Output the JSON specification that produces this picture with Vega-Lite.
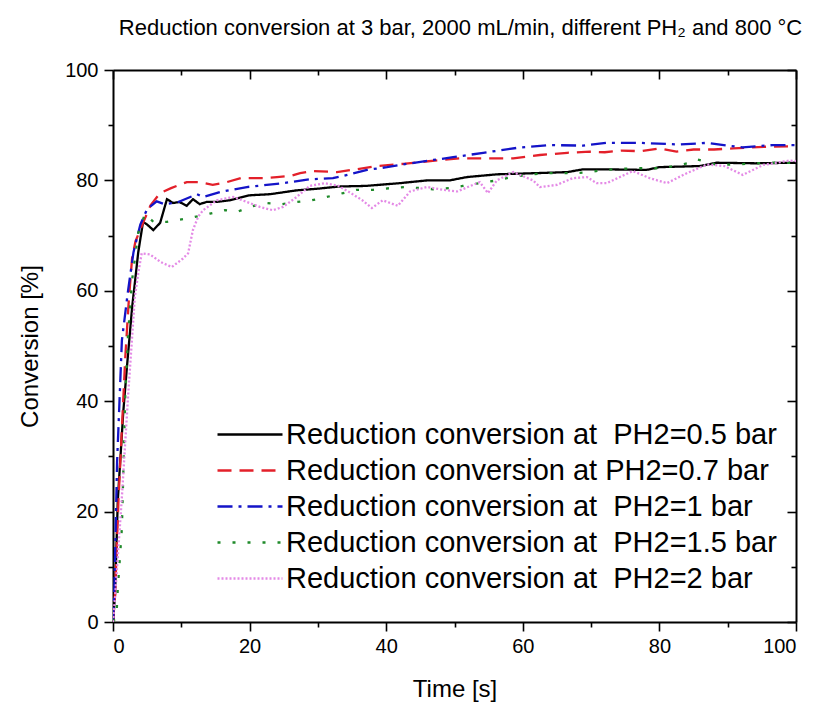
{
  "$schema": "https://vega.github.io/schema/vega-lite/v6.json",
  "width": 683,
  "height": 552,
  "autosize": "none",
  "padding": {"left": 113, "top": 70, "right": 21, "bottom": 86},
  "background": "white",
  "title": {
    "text": "Reduction conversion at 3 bar, 2000 mL/min, different PH₂ and 800 °C",
    "font": "Liberation Sans",
    "fontSize": 22,
    "fontWeight": "normal",
    "color": "black",
    "anchor": "middle",
    "dx": 6,
    "offset": 20
  },
  "datasets": {
    "conv": [
      {"s": "0.5", "t": 0, "c": 0}, {"s": "0.5", "t": 0.3, "c": 5}, {"s": "0.5", "t": 0.7, "c": 22}, {"s": "0.5", "t": 1.5, "c": 38}, {"s": "0.5", "t": 2, "c": 45.6}, {"s": "0.5", "t": 2.8, "c": 57}, {"s": "0.5", "t": 3.7, "c": 67}, {"s": "0.5", "t": 4.4, "c": 72.5}, {"s": "0.5", "t": 5, "c": 72}, {"s": "0.5", "t": 5.9, "c": 71}, {"s": "0.5", "t": 6.9, "c": 72.3}, {"s": "0.5", "t": 7.9, "c": 76.6}, {"s": "0.5", "t": 8.8, "c": 75.9}, {"s": "0.5", "t": 9.7, "c": 76.1}, {"s": "0.5", "t": 10.8, "c": 75.4}, {"s": "0.5", "t": 11.7, "c": 76.6}, {"s": "0.5", "t": 12.7, "c": 75.7}, {"s": "0.5", "t": 13.7, "c": 76.1}, {"s": "0.5", "t": 15.2, "c": 76.1}, {"s": "0.5", "t": 17.1, "c": 76.4}, {"s": "0.5", "t": 20, "c": 77.3}, {"s": "0.5", "t": 23, "c": 77.5}, {"s": "0.5", "t": 26.9, "c": 78.2}, {"s": "0.5", "t": 30, "c": 78.5}, {"s": "0.5", "t": 33.2, "c": 78.9}, {"s": "0.5", "t": 37, "c": 79}, {"s": "0.5", "t": 42, "c": 79.5}, {"s": "0.5", "t": 46, "c": 80}, {"s": "0.5", "t": 49.3, "c": 80}, {"s": "0.5", "t": 51.8, "c": 80.6}, {"s": "0.5", "t": 56.2, "c": 81.1}, {"s": "0.5", "t": 61.5, "c": 81.3}, {"s": "0.5", "t": 66.5, "c": 81.5}, {"s": "0.5", "t": 68.8, "c": 82}, {"s": "0.5", "t": 72.3, "c": 82}, {"s": "0.5", "t": 78.1, "c": 81.9}, {"s": "0.5", "t": 80, "c": 82.4}, {"s": "0.5", "t": 85.9, "c": 82.6}, {"s": "0.5", "t": 88.4, "c": 83.2}, {"s": "0.5", "t": 94, "c": 83.1}, {"s": "0.5", "t": 100, "c": 83.2},

      {"s": "0.7", "t": 0, "c": 0}, {"s": "0.7", "t": 0.3, "c": 5}, {"s": "0.7", "t": 0.8, "c": 22}, {"s": "0.7", "t": 1.3, "c": 35}, {"s": "0.7", "t": 1.8, "c": 48}, {"s": "0.7", "t": 2.3, "c": 58}, {"s": "0.7", "t": 2.8, "c": 66}, {"s": "0.7", "t": 3.3, "c": 69}, {"s": "0.7", "t": 4.4, "c": 72.3}, {"s": "0.7", "t": 5.5, "c": 75.5}, {"s": "0.7", "t": 6.9, "c": 77.7}, {"s": "0.7", "t": 8.5, "c": 78.6}, {"s": "0.7", "t": 10.8, "c": 79.7}, {"s": "0.7", "t": 12.7, "c": 79.7}, {"s": "0.7", "t": 14.6, "c": 79.2}, {"s": "0.7", "t": 16.7, "c": 79.7}, {"s": "0.7", "t": 18.7, "c": 80.4}, {"s": "0.7", "t": 22, "c": 80.4}, {"s": "0.7", "t": 24, "c": 80.6}, {"s": "0.7", "t": 26, "c": 80.8}, {"s": "0.7", "t": 27.4, "c": 81.3}, {"s": "0.7", "t": 29.3, "c": 81.7}, {"s": "0.7", "t": 32.8, "c": 81.5}, {"s": "0.7", "t": 35, "c": 81.9}, {"s": "0.7", "t": 38.7, "c": 82.6}, {"s": "0.7", "t": 42.5, "c": 83}, {"s": "0.7", "t": 47.9, "c": 83.7}, {"s": "0.7", "t": 50.8, "c": 84}, {"s": "0.7", "t": 54.8, "c": 84}, {"s": "0.7", "t": 58.6, "c": 84}, {"s": "0.7", "t": 62.5, "c": 84.6}, {"s": "0.7", "t": 66.5, "c": 85}, {"s": "0.7", "t": 69.8, "c": 85.2}, {"s": "0.7", "t": 72, "c": 85.1}, {"s": "0.7", "t": 74.5, "c": 85.4}, {"s": "0.7", "t": 77.2, "c": 85.3}, {"s": "0.7", "t": 80, "c": 85.8}, {"s": "0.7", "t": 82.5, "c": 85.2}, {"s": "0.7", "t": 85, "c": 85.6}, {"s": "0.7", "t": 88, "c": 85.6}, {"s": "0.7", "t": 90.8, "c": 85.8}, {"s": "0.7", "t": 95.7, "c": 86.1}, {"s": "0.7", "t": 100, "c": 86.2},

      {"s": "1", "t": 0, "c": 0}, {"s": "1", "t": 0.2, "c": 6}, {"s": "1", "t": 0.6, "c": 29}, {"s": "1", "t": 1.3, "c": 51}, {"s": "1", "t": 2.2, "c": 60}, {"s": "1", "t": 3, "c": 67}, {"s": "1", "t": 4, "c": 72}, {"s": "1", "t": 5, "c": 74.8}, {"s": "1", "t": 6.4, "c": 76.2}, {"s": "1", "t": 7.5, "c": 75.7}, {"s": "1", "t": 9.4, "c": 76}, {"s": "1", "t": 12.3, "c": 77.5}, {"s": "1", "t": 13.2, "c": 77}, {"s": "1", "t": 15.7, "c": 77.9}, {"s": "1", "t": 19.6, "c": 78.8}, {"s": "1", "t": 24.9, "c": 79.5}, {"s": "1", "t": 28.8, "c": 80.2}, {"s": "1", "t": 32.2, "c": 80.4}, {"s": "1", "t": 34.3, "c": 81}, {"s": "1", "t": 37.2, "c": 81.9}, {"s": "1", "t": 40.1, "c": 82.4}, {"s": "1", "t": 43, "c": 83}, {"s": "1", "t": 46.9, "c": 83.7}, {"s": "1", "t": 49.8, "c": 84.2}, {"s": "1", "t": 54.2, "c": 85}, {"s": "1", "t": 59.2, "c": 85.9}, {"s": "1", "t": 64, "c": 86.4}, {"s": "1", "t": 68.8, "c": 86.3}, {"s": "1", "t": 72.3, "c": 86.8}, {"s": "1", "t": 77.2, "c": 86.8}, {"s": "1", "t": 83, "c": 86.5}, {"s": "1", "t": 87, "c": 86.8}, {"s": "1", "t": 89.9, "c": 86.3}, {"s": "1", "t": 92.2, "c": 86}, {"s": "1", "t": 96.6, "c": 86.4}, {"s": "1", "t": 100, "c": 86.4},

      {"s": "1.5", "t": 0, "c": 0}, {"s": "1.5", "t": 0.5, "c": 1}, {"s": "1.5", "t": 0.7, "c": 6}, {"s": "1.5", "t": 1.3, "c": 17}, {"s": "1.5", "t": 1.8, "c": 41}, {"s": "1.5", "t": 2.2, "c": 52}, {"s": "1.5", "t": 2.8, "c": 62}, {"s": "1.5", "t": 3.7, "c": 70.5}, {"s": "1.5", "t": 4.7, "c": 74}, {"s": "1.5", "t": 5.9, "c": 72.5}, {"s": "1.5", "t": 7.9, "c": 72.5}, {"s": "1.5", "t": 11.3, "c": 73.2}, {"s": "1.5", "t": 14.2, "c": 74}, {"s": "1.5", "t": 16.4, "c": 74.6}, {"s": "1.5", "t": 18.2, "c": 74.3}, {"s": "1.5", "t": 20, "c": 75.2}, {"s": "1.5", "t": 22.5, "c": 75.9}, {"s": "1.5", "t": 24.7, "c": 75.7}, {"s": "1.5", "t": 26.9, "c": 76.1}, {"s": "1.5", "t": 29.1, "c": 76.4}, {"s": "1.5", "t": 31.3, "c": 77}, {"s": "1.5", "t": 33.7, "c": 77.7}, {"s": "1.5", "t": 35.7, "c": 78.3}, {"s": "1.5", "t": 38.1, "c": 78.3}, {"s": "1.5", "t": 40.6, "c": 78.6}, {"s": "1.5", "t": 42.8, "c": 78.8}, {"s": "1.5", "t": 45, "c": 78.6}, {"s": "1.5", "t": 46.9, "c": 78.4}, {"s": "1.5", "t": 49.3, "c": 78.6}, {"s": "1.5", "t": 51.2, "c": 79}, {"s": "1.5", "t": 53.7, "c": 79.5}, {"s": "1.5", "t": 56.2, "c": 80}, {"s": "1.5", "t": 58.4, "c": 80.6}, {"s": "1.5", "t": 60.6, "c": 81}, {"s": "1.5", "t": 63, "c": 81.3}, {"s": "1.5", "t": 67.3, "c": 81.3}, {"s": "1.5", "t": 69.8, "c": 81.5}, {"s": "1.5", "t": 71.8, "c": 81.9}, {"s": "1.5", "t": 76.1, "c": 82.2}, {"s": "1.5", "t": 80.5, "c": 82.2}, {"s": "1.5", "t": 84.5, "c": 83.2}, {"s": "1.5", "t": 85.5, "c": 83.8}, {"s": "1.5", "t": 87, "c": 83.3}, {"s": "1.5", "t": 88.4, "c": 82.8}, {"s": "1.5", "t": 91.4, "c": 82.9}, {"s": "1.5", "t": 95.7, "c": 83.2}, {"s": "1.5", "t": 100, "c": 83.2},

      {"s": "2", "t": 0, "c": 0}, {"s": "2", "t": 0.3, "c": 4.5}, {"s": "2", "t": 1.3, "c": 22.6}, {"s": "2", "t": 2.2, "c": 40.8}, {"s": "2", "t": 3.2, "c": 58.9}, {"s": "2", "t": 3.7, "c": 63.2}, {"s": "2", "t": 4.2, "c": 66.8}, {"s": "2", "t": 5.4, "c": 66.6}, {"s": "2", "t": 7, "c": 65.2}, {"s": "2", "t": 8.6, "c": 64.3}, {"s": "2", "t": 10.2, "c": 65.8}, {"s": "2", "t": 11, "c": 66.8}, {"s": "2", "t": 11.7, "c": 71}, {"s": "2", "t": 12.5, "c": 73.5}, {"s": "2", "t": 13.2, "c": 74.6}, {"s": "2", "t": 15.2, "c": 76.4}, {"s": "2", "t": 17.6, "c": 77}, {"s": "2", "t": 19.6, "c": 76.1}, {"s": "2", "t": 21.5, "c": 75.2}, {"s": "2", "t": 23.4, "c": 74.6}, {"s": "2", "t": 24.9, "c": 75.2}, {"s": "2", "t": 26.9, "c": 77}, {"s": "2", "t": 28.8, "c": 79}, {"s": "2", "t": 31, "c": 79.5}, {"s": "2", "t": 33, "c": 79}, {"s": "2", "t": 34.7, "c": 77.8}, {"s": "2", "t": 36.5, "c": 76.4}, {"s": "2", "t": 37.9, "c": 75}, {"s": "2", "t": 39.5, "c": 76.4}, {"s": "2", "t": 41.7, "c": 75.4}, {"s": "2", "t": 43.5, "c": 78}, {"s": "2", "t": 46, "c": 78.8}, {"s": "2", "t": 48.3, "c": 78.3}, {"s": "2", "t": 50.4, "c": 78}, {"s": "2", "t": 53.7, "c": 79.7}, {"s": "2", "t": 54.9, "c": 77.7}, {"s": "2", "t": 56.2, "c": 80}, {"s": "2", "t": 58.6, "c": 81.5}, {"s": "2", "t": 61.5, "c": 80}, {"s": "2", "t": 62.5, "c": 78.8}, {"s": "2", "t": 65, "c": 79.2}, {"s": "2", "t": 67.3, "c": 80.4}, {"s": "2", "t": 69.4, "c": 80.6}, {"s": "2", "t": 70.8, "c": 79.5}, {"s": "2", "t": 72.3, "c": 79.5}, {"s": "2", "t": 76.1, "c": 81.7}, {"s": "2", "t": 78.6, "c": 80.4}, {"s": "2", "t": 81.1, "c": 79.5}, {"s": "2", "t": 84, "c": 81.3}, {"s": "2", "t": 87, "c": 82.9}, {"s": "2", "t": 89.5, "c": 82.6}, {"s": "2", "t": 92.2, "c": 81}, {"s": "2", "t": 95.2, "c": 82.8}, {"s": "2", "t": 99.1, "c": 83.6}, {"s": "2", "t": 100, "c": 83.5}
    ]
  },
  "data": {"name": "conv"},
  "layer": [
    {
      "mark": {"type": "line", "strokeWidth": 2.3, "clip": true},
      "encoding": {
        "x": {
          "field": "t", "type": "quantitative",
          "scale": {"domain": [0, 100], "nice": false, "zero": false},
          "axis": {"orient": "bottom", "values": [0, 20, 40, 60, 80, 100], "tickSize": 9, "labelPadding": 5, "title": "Time [s]", "titlePadding": 21}
        },
        "y": {
          "field": "c", "type": "quantitative",
          "scale": {"domain": [0, 100], "nice": false, "zero": false},
          "axis": {"orient": "left", "values": [0, 20, 40, 60, 80, 100], "tickSize": 9, "labelPadding": 6, "title": "Conversion [%]", "titlePadding": 22}
        },
        "color": {
          "field": "s", "type": "nominal",
          "scale": {"domain": ["0.5", "0.7", "1", "1.5", "2"], "range": ["#000000", "#e3202a", "#1414c8", "#1f8a2a", "#e48ae6"]},
          "legend": {
            "orient": "none",
            "legendX": 100,
            "legendY": 350,
            "title": null,
            "padding": 0,
            "symbolType": "M-1,0L5.5,0",
            "symbolSize": 400,
            "symbolStrokeWidth": 2.5,
            "symbolFillColor": "transparent",
            "labelFont": "Liberation Sans",
            "labelFontSize": 29,
            "labelColor": "black",
            "labelLimit": 1000,
            "labelOffset": 44,
            "rowPadding": 6,
            "labelExpr": "datum.label == '0.7' ? 'Reduction conversion at PH2=0.7 bar' : 'Reduction conversion at\u00a0 PH2=' + datum.label + ' bar'"
          }
        },
        "strokeDash": {
          "field": "s", "type": "nominal",
          "scale": {"domain": ["0.5", "0.7", "1", "1.5", "2"], "range": [[1, 0], [14, 8], [15, 6, 3, 6], [3, 12], [2, 2]]}
        }
      }
    },
    {
      "mark": {"type": "point", "opacity": 0},
      "encoding": {
        "x": {"field": "t", "type": "quantitative", "scale": {"domain": [0, 100], "nice": false, "zero": false},
          "axis": {"orient": "bottom", "values": [10, 30, 50, 70, 90], "tickSize": 5, "labels": false, "domain": false, "title": null}},
        "y": {"field": "c", "type": "quantitative", "scale": {"domain": [0, 100], "nice": false, "zero": false},
          "axis": {"orient": "left", "values": [10, 30, 50, 70, 90], "tickSize": 5, "labels": false, "domain": false, "title": null}}
      }
    },
    {
      "mark": {"type": "point", "opacity": 0},
      "encoding": {
        "x": {"field": "t", "type": "quantitative", "scale": {"domain": [0, 100], "nice": false, "zero": false},
          "axis": {"orient": "top", "values": [0, 20, 40, 60, 80, 100], "tickSize": -9, "labels": false, "title": null}},
        "y": {"field": "c", "type": "quantitative", "scale": {"domain": [0, 100], "nice": false, "zero": false},
          "axis": {"orient": "right", "values": [0, 20, 40, 60, 80, 100], "tickSize": -9, "labels": false, "title": null}}
      }
    },
    {
      "mark": {"type": "point", "opacity": 0},
      "encoding": {
        "x": {"field": "t", "type": "quantitative", "scale": {"domain": [0, 100], "nice": false, "zero": false},
          "axis": {"orient": "top", "values": [10, 30, 50, 70, 90], "tickSize": -5, "labels": false, "domain": false, "title": null}},
        "y": {"field": "c", "type": "quantitative", "scale": {"domain": [0, 100], "nice": false, "zero": false},
          "axis": {"orient": "right", "values": [10, 30, 50, 70, 90], "tickSize": -5, "labels": false, "domain": false, "title": null}}
      }
    }
  ],
  "resolve": {"axis": {"x": "independent", "y": "independent"}},
  "config": {
    "view": {"stroke": null},
    "axis": {
      "grid": false,
      "labelFont": "Liberation Sans",
      "labelFontSize": 20,
      "labelColor": "black",
      "titleFont": "Liberation Sans",
      "titleFontSize": 24,
      "titleFontWeight": "normal",
      "titleColor": "black",
      "domainColor": "black",
      "domainWidth": 2,
      "tickColor": "black",
      "tickWidth": 1.6,
      "zindex": 1
    }
  }
}
